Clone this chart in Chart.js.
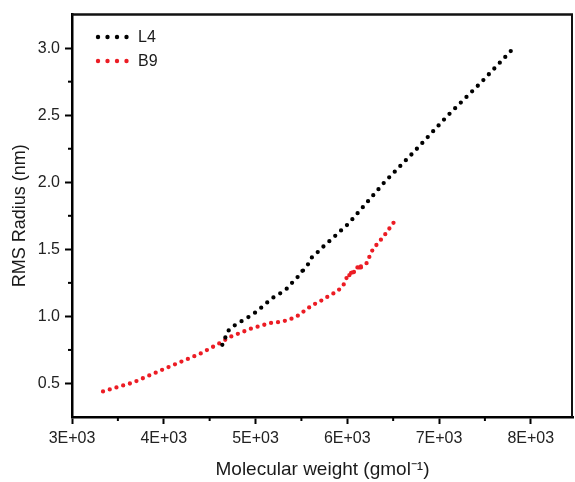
<!DOCTYPE html>
<html>
<head>
<meta charset="utf-8">
<script src="https://cdn.jsdelivr.net/npm/chart.js@4.4.0/dist/chart.umd.min.js"></script>
<style>
  html, body { margin: 0; padding: 0; background: #fff; }
  #cadre { width: 575px; height: 482px; }
</style>
</head>
<body>
<div id="cadre"><canvas id="graphique-rms"></canvas></div>
<script>
// Valeurs (poids en g/mol, rayon en nm)
const poidsL4 = [4638, 4670, 4692, 4747, 4834, 4943, 5020, 5107, 5183, 5271, 5347, 5413, 5489, 5522, 5500, 5565, 5620, 5686, 5762, 5838, 5893, 6013, 6220, 6406, 6722, 7094, 7454, 7782];
const rayonL4 = [0.788, 0.840, 0.885, 0.922, 0.959, 1.003, 1.040, 1.092, 1.136, 1.173, 1.210, 1.262, 1.314, 1.351, 1.328, 1.380, 1.447, 1.484, 1.536, 1.580, 1.617, 1.691, 1.854, 2.001, 2.223, 2.497, 2.741, 2.978];

const poidsB9 = [3338, 3666, 4037, 4397, 4616, 4725, 4834, 4943, 5052, 5162, 5271, 5358, 5456, 5544, 5620, 5707, 5795, 5893, 5958, 5980, 6057, 6013, 6111, 6068, 6166, 6122, 6220, 6253, 6286, 6330, 6395, 6504];
const rayonB9 = [0.441, 0.507, 0.618, 0.722, 0.803, 0.848, 0.877, 0.907, 0.929, 0.951, 0.959, 0.973, 1.003, 1.047, 1.084, 1.114, 1.151, 1.188, 1.232, 1.277, 1.336, 1.299, 1.365, 1.328, 1.388, 1.351, 1.402, 1.469, 1.506, 1.543, 1.595, 1.698];

const nomsSeries = ["L4", "B9"];
const couleurs = ["#000000", "#ec1c24"];
const ecartsPoints = [8, 7]; // espacement visé des pointillés (px)

// Graduations et étiquettes des axes ("" = petite graduation)
const graduationsX = [3000, 3500, 4000, 4500, 5000, 5500, 6000, 6500, 7000, 7500, 8000];
const etiquettesX = ["3E+03", "", "4E+03", "", "5E+03", "", "6E+03", "", "7E+03", "", "8E+03"];
const graduationsY = [0.5, 0.75, 1.0, 1.25, 1.5, 1.75, 2.0, 2.25, 2.5, 2.75, 3.0];
const etiquettesY = ["0.5", "", "1.0", "", "1.5", "", "2.0", "", "2.5", "", "3.0"];

const policeTexte = "'Liberation Sans', Arial, sans-serif";

// Transformer les deux tableaux en points {x, y}
function versPoints(xs, ys) {
  return xs.map((x, i) => ({ x: x, y: ys[i] }));
}

// Ajuster l'espacement des pointillés pour que chaque courbe finisse sur un point
const ajustePointilles = {
  id: "ajustePointilles",
  afterLayout(chart) {
    const sx = chart.scales.x;
    const sy = chart.scales.y;
    chart.data.datasets.forEach((ds, i) => {
      let longueur = 0;
      for (let k = 1; k < ds.data.length; k++) {
        const dx = sx.getPixelForValue(ds.data[k].x) - sx.getPixelForValue(ds.data[k - 1].x);
        const dy = sy.getPixelForValue(ds.data[k].y) - sy.getPixelForValue(ds.data[k - 1].y);
        longueur += Math.sqrt(dx * dx + dy * dy);
      }
      const n = Math.max(1, Math.round(longueur / ecartsPoints[i]));
      ds.borderDash = [0, longueur / n - 0.001];
    });
  }
};

// Légende dessinée à la main (pointillés + nom)
const legendePointillee = {
  id: "legendePointillee",
  afterDraw(chart) {
    const ctx = chart.ctx;
    ctx.save();
    ctx.font = "16px " + policeTexte;
    ctx.textBaseline = "middle";
    const lignes = [37, 61];
    for (let i = 0; i < nomsSeries.length; i++) {
      ctx.fillStyle = couleurs[i];
      for (let k = 0; k < 4; k++) {
        ctx.beginPath();
        ctx.arc(98 + k * 9.5, lignes[i], 2.2, 0, Math.PI * 2);
        ctx.fill();
      }
      ctx.fillStyle = "#1a1a1a";
      ctx.fillText(nomsSeries[i], 138, lignes[i] + 1);
    }
    ctx.restore();
  }
};

// Cadre haut / droit et petites graduations
const cadreEtGraduations = {
  id: "cadreEtGraduations",
  afterDraw(chart) {
    const ctx = chart.ctx;
    const zone = chart.chartArea;
    const sx = chart.scales.x;
    const sy = chart.scales.y;
    ctx.save();
    ctx.strokeStyle = "#111";
    ctx.lineWidth = 2.5;
    ctx.beginPath();
    ctx.moveTo(zone.left, zone.top);
    ctx.lineTo(zone.right, zone.top);
    ctx.stroke();
    ctx.lineWidth = 2;
    ctx.strokeStyle = "#111";
    ctx.beginPath();
    ctx.moveTo(zone.right - 1, zone.top);
    ctx.lineTo(zone.right - 1, zone.bottom);
    ctx.stroke();

    ctx.lineWidth = 2;
    ctx.strokeStyle = "#000";
    for (let i = 0; i < graduationsX.length; i++) {
      if (etiquettesX[i] === "") {
        const px = sx.getPixelForValue(graduationsX[i]);
        ctx.beginPath();
        ctx.moveTo(px, zone.bottom);
        ctx.lineTo(px, zone.bottom + 4);
        ctx.stroke();
      }
    }
    for (let i = 0; i < graduationsY.length; i++) {
      if (etiquettesY[i] === "") {
        const py = sy.getPixelForValue(graduationsY[i]);
        ctx.beginPath();
        ctx.moveTo(zone.left, py);
        ctx.lineTo(zone.left - 4, py);
        ctx.stroke();
      }
    }
    ctx.restore();
  }
};

const data = {
  datasets: [
    {
      label: nomsSeries[0],
      data: versPoints(poidsL4, rayonL4),
      borderColor: couleurs[0],
      borderWidth: 4.3,
      borderDash: [0, ecartsPoints[0]],
      borderCapStyle: "round",
      pointRadius: 0,
      showLine: true,
      tension: 0
    },
    {
      label: nomsSeries[1],
      data: versPoints(poidsB9, rayonB9),
      borderColor: couleurs[1],
      borderWidth: 4.3,
      borderDash: [0, ecartsPoints[1]],
      borderCapStyle: "round",
      pointRadius: 0,
      showLine: true,
      tension: 0
    }
  ]
};

const config = {
  type: "scatter",
  data: data,
  options: {
    responsive: true,
    maintainAspectRatio: false,
    animation: false,
    layout: { padding: { top: 12, right: 2, left: 0, bottom: 0 } },
    plugins: {
      legend: { display: false },
      tooltip: { enabled: false }
    },
    scales: {
      x: {
        type: "linear",
        min: 3000,
        max: 8460,
        afterFit: (s) => { s.height = 65; },
        afterBuildTicks: (s) => { s.ticks = graduationsX.map((v) => ({ value: v })); },
        ticks: {
          autoSkip: false,
          maxRotation: 0,
          padding: 5,
          color: "#222",
          font: { family: policeTexte, size: 16 },
          callback: (v, i) => etiquettesX[i]
        },
        grid: {
          drawOnChartArea: false,
          tickLength: 7,
          tickWidth: 2,
          tickColor: (c) => (etiquettesX[c.index] ? "#000" : "rgba(0,0,0,0)")
        },
        border: { color: "#000", width: 2.5 },
        title: {
          display: true,
          text: "Molecular weight (gmol\u207B\u00B9)",
          color: "#1a1a1a",
          font: { family: policeTexte, size: 19 },
          padding: { top: 0, bottom: 1 }
        }
      },
      y: {
        min: 0.25,
        max: 3.25,
        afterFit: (s) => { s.width = 72; },
        afterBuildTicks: (s) => { s.ticks = graduationsY.map((v) => ({ value: v })); },
        ticks: {
          autoSkip: false,
          padding: 5,
          color: "#222",
          font: { family: policeTexte, size: 16 },
          callback: (v, i) => etiquettesY[i]
        },
        grid: {
          drawOnChartArea: false,
          tickLength: 7,
          tickWidth: 2,
          tickColor: (c) => (etiquettesY[c.index] ? "#000" : "rgba(0,0,0,0)")
        },
        border: { color: "#000", width: 2.5 },
        title: {
          display: true,
          text: "RMS Radius (nm)",
          color: "#1a1a1a",
          font: { family: policeTexte, size: 18 },
          padding: { top: 9, bottom: 0 }
        }
      }
    }
  },
  plugins: [ajustePointilles, legendePointillee, cadreEtGraduations]
};

// Rendu graphique dans l'élément canvas
new Chart(document.querySelector("#graphique-rms"), config);
</script>
</body>
</html>
